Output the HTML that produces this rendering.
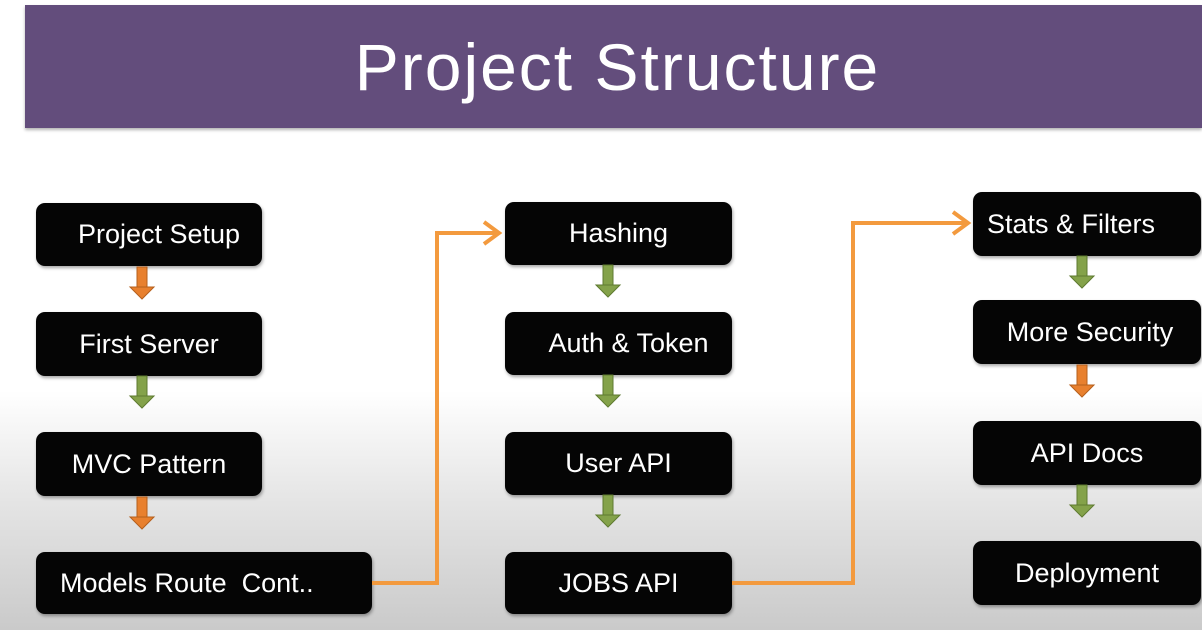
<!DOCTYPE html>
<html><head><meta charset="utf-8"><style>
html,body{margin:0;padding:0}
body{width:1202px;height:630px;position:relative;overflow:hidden;font-family:"Liberation Sans",sans-serif;
background:linear-gradient(180deg,#fff 0%,#fff 62%,#e4e4e4 80%,#cacaca 100%)}
.hdr{position:absolute;left:25px;top:5px;width:1177px;height:123px;background:#634d7c;box-shadow:0 2px 3px rgba(0,0,0,.3)}
.hdr div{position:absolute;left:0;width:1177px;top:24px;text-align:center;color:#fff;font-size:66px;letter-spacing:2px;padding-left:4px}
.b{position:absolute;background:#050505;border-radius:9px;color:#fff;font-size:27px;display:flex;align-items:center;justify-content:center;box-shadow:1px 2px 3px rgba(0,0,0,.35)}
svg{position:absolute;left:0;top:0}
</style></head><body>
<div class="hdr"><div>Project Structure</div></div>
<div class="b" style="left:36px;top:203px;width:226px;height:63px;padding-left:20px;box-sizing:border-box">Project Setup</div>
<div class="b" style="left:36px;top:312px;width:226px;height:64px">First Server</div>
<div class="b" style="left:36px;top:432px;width:226px;height:64px">MVC Pattern</div>
<div class="b" style="left:36px;top:552px;width:336px;height:62px;justify-content:flex-start;padding-left:24px;box-sizing:border-box">Models Route&nbsp; Cont..</div>
<div class="b" style="left:505px;top:202px;width:227px;height:63px">Hashing</div>
<div class="b" style="left:505px;top:312px;width:227px;height:63px;padding-left:20px;box-sizing:border-box">Auth &amp; Token</div>
<div class="b" style="left:505px;top:432px;width:227px;height:63px">User API</div>
<div class="b" style="left:505px;top:552px;width:227px;height:62px">JOBS API</div>
<div class="b" style="left:973px;top:192px;width:228px;height:64px;justify-content:flex-start;padding-left:14px;box-sizing:border-box">Stats &amp; Filters</div>
<div class="b" style="left:973px;top:300px;width:228px;height:64px;padding-left:6px;box-sizing:border-box">More Security</div>
<div class="b" style="left:973px;top:421px;width:228px;height:64px">API Docs</div>
<div class="b" style="left:973px;top:541px;width:228px;height:64px">Deployment</div>
<svg width="1202" height="630">
<defs>
<g id="ar"><rect x="-5" y="0" width="10" height="22"/><polygon points="-12,20 12,20 0,32"/></g>
</defs>
<g fill="#e8802e" stroke="#b55f1c" stroke-width="1">
<use href="#ar" x="142" y="267"/><use href="#ar" x="142" y="497"/><use href="#ar" x="1082" y="365"/>
</g>
<g fill="#84a24a" stroke="#5e7a30" stroke-width="1">
<use href="#ar" x="142" y="376"/>
<use href="#ar" x="608" y="265"/><use href="#ar" x="608" y="375"/><use href="#ar" x="608" y="495"/>
<use href="#ar" x="1082" y="256"/><use href="#ar" x="1082" y="485"/>
</g>
<g fill="none" stroke="#f39a3e" stroke-width="4" stroke-linejoin="miter">
<polyline points="372,583 437,583 437,233 498,233"/>
<polyline points="484,222 499,233 484,244"/>
<polyline points="732,583 853,583 853,223 968,223"/>
<polyline points="953,212 968,223 953,234"/>
</g>
</svg>
</body></html>
